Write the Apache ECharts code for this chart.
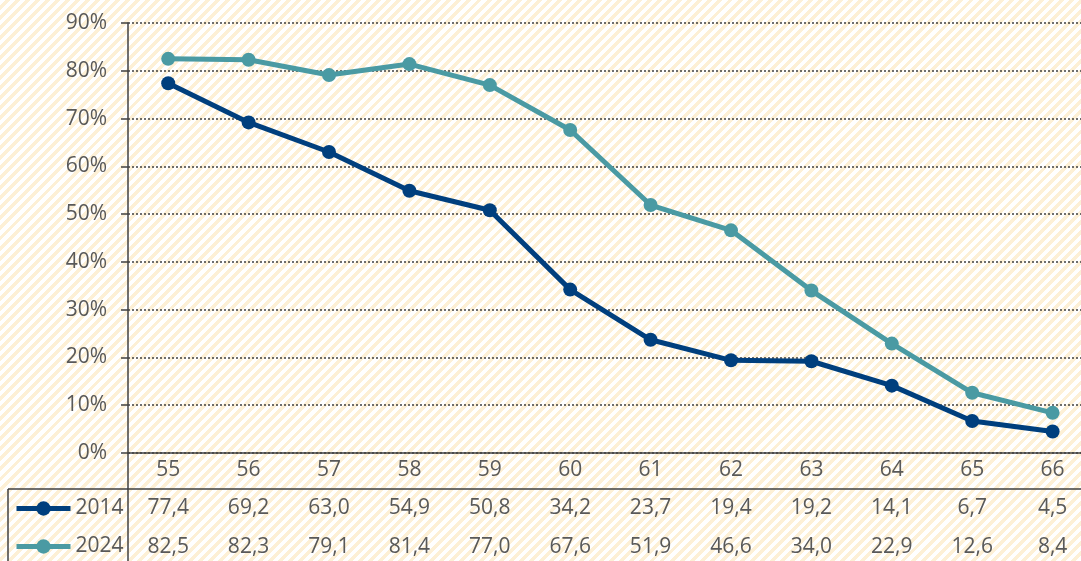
<!DOCTYPE html>
<html>
<head>
<meta charset="utf-8">
<script src="https://cdn.jsdelivr.net/npm/echarts@6/dist/echarts.min.js"></script>
<style>
  html, body { margin: 0; padding: 0; }
  #chart {
    width: 1081px;
    height: 561px;
    background: repeating-linear-gradient(135deg, #ffffff 0 3.6px, #fdf0d6 3.6px 7.1px);
  }
</style>
</head>
<body>
<div id="chart"></div>
<script>
const ages = ['55', '56', '57', '58', '59', '60', '61', '62', '63', '64', '65', '66']
const share2014 = [77.4, 69.2, 63.0, 54.9, 50.8, 34.2, 23.7, 19.4, 19.2, 14.1, 6.7, 4.5]
const share2024 = [82.5, 82.3, 79.1, 81.4, 77.0, 67.6, 51.9, 46.6, 34.0, 22.9, 12.6, 8.4]
const yTicks = [0, 10, 20, 30, 40, 50, 60, 70, 80, 90]

const textColor = '#595959'
const lineColor = '#404040'
const font = 'Open Sans'
const fontSize = 21
const fmt = v => v.toFixed(1).replace('.', ',')

const chart = echarts.init(document.getElementById('chart'))

const tableAxis = (data, offset, showLine) => ({
  type: 'category',
  data: data.map(fmt),
  position: 'bottom',
  offset,
  gridIndex: 0,
  axisLine: { show: showLine, lineStyle: { color: lineColor, width: 1.5 } },
  axisTick: { show: false },
  axisLabel: { color: textColor, fontSize, fontFamily: font, margin: 9, interval: 0 },
  splitLine: { show: false }
})

const legendRow = (name, top) => ({
  left: 14,
  top,
  padding: 0,
  itemWidth: 54,
  itemHeight: 18,
  lineStyle: { width: 5 },
  textStyle: { color: textColor, fontSize, fontFamily: font },
  data: [name]
})

chart.setOption({
  backgroundColor: 'transparent',
  animation: false,
  grid: {
    left: 128,
    top: 23,
    width: 964.8,
    height: 430,
    outerBoundsMode: 'none'
  },
  legend: [legendRow('2014', 498), legendRow('2024', 536)],
  xAxis: [
    {
      type: 'category',
      data: ages,
      boundaryGap: true,
      axisLine: { lineStyle: { color: lineColor, width: 1.5 } },
      axisTick: { show: false },
      axisLabel: { color: textColor, fontSize, fontFamily: font, margin: 7, interval: 0 }
    },
    tableAxis(share2014, 36, true),
    tableAxis(share2024, 75, false)
  ],
  yAxis: {
    type: 'value',
    min: yTicks[0],
    max: yTicks[yTicks.length - 1],
    interval: 10,
    axisLine: { show: true, lineStyle: { color: lineColor, width: 1.5 } },
    axisTick: { show: true, length: 7, lineStyle: { color: lineColor, width: 1.5 } },
    axisLabel: {
      color: textColor,
      fontSize,
      fontFamily: font,
      margin: 21,
      formatter: '{value}%'
    },
    splitLine: { lineStyle: { color: lineColor, width: 1.5, type: [2, 2] } }
  },
  series: [
    {
      name: '2014',
      type: 'line',
      data: share2014,
      symbol: 'circle',
      symbolSize: 14,
      itemStyle: { color: '#003f7d' },
      lineStyle: { width: 5, color: '#003f7d' }
    },
    {
      name: '2024',
      type: 'line',
      data: share2024,
      symbol: 'circle',
      symbolSize: 14,
      itemStyle: { color: '#4a9aa3' },
      lineStyle: { width: 5, color: '#4a9aa3' }
    }
  ],
  graphic: [
    { type: 'line', shape: { x1: 8, y1: 489, x2: 128, y2: 489 }, style: { stroke: lineColor, lineWidth: 1.5 } },
    { type: 'line', shape: { x1: 8, y1: 489, x2: 8, y2: 561 }, style: { stroke: lineColor, lineWidth: 1.5 } },
    { type: 'line', shape: { x1: 128, y1: 453, x2: 128, y2: 561 }, style: { stroke: lineColor, lineWidth: 1.5 } }
  ]
})
</script>
</body>
</html>
